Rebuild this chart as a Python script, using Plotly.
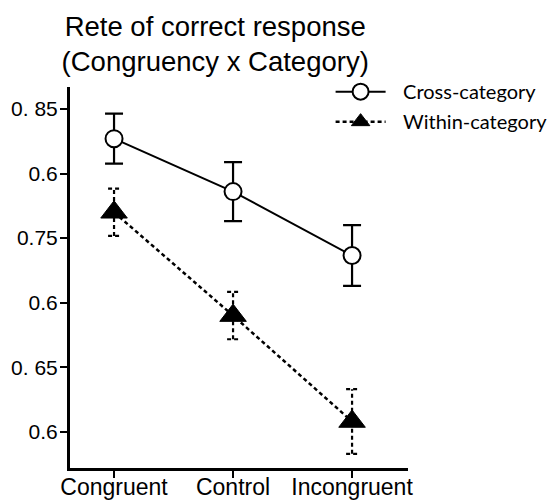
import plotly.graph_objects as go

categories = ["Congruent", "Control", "Incongruent"]
x_pos = [0, 1, 2]

cross_vals = [0.827, 0.786, 0.7365]
cross_err = [0.0194, 0.0228, 0.0235]

within_vals = [0.770, 0.690, 0.608]
within_err = [0.0183, 0.0183, 0.025]

y_tickvals = [0.85, 0.80, 0.75, 0.70, 0.65, 0.60]
y_ticktext = ["0. 85", "0.6", "0.75", "0.6", "0. 65", "0.6"]

# dashed error bars for within-category, built from the arrays
cap = 0.05
ex, ey = [], []
for xi, v, e in zip(x_pos, within_vals, within_err):
    lo, hi = v - e, v + e
    ex += [xi, xi, None, xi - cap, xi + cap, None, xi - cap, xi + cap, None]
    ey += [lo, hi, None, hi, hi, None, lo, lo, None]

fig = go.Figure()

fig.add_trace(go.Scatter(
    x=ex, y=ey, mode="lines", showlegend=False, hoverinfo="skip",
    line=dict(color="black", width=2.2, dash="4px,3px"),
))

fig.add_trace(go.Scatter(
    x=x_pos, y=cross_vals, name="\u2002\u2009Cross-category", mode="lines+markers",
    legendgroup="a",
    line=dict(color="black", width=2),
    marker=dict(symbol="circle", size=17, color="white",
                line=dict(color="black", width=2)),
    error_y=dict(type="data", array=cross_err, visible=True,
                 color="black", thickness=2.2, width=9),
))

fig.add_trace(go.Scatter(
    x=x_pos, y=within_vals, name="\u2002\u2009Within-category", mode="lines+markers",
    legendgroup="b",
    line=dict(color="black", width=2.5, dash="4px,3px"),
    marker=dict(symbol="triangle-up", size=23, color="black",
                line=dict(color="black", width=1)),
))

fig.update_layout(
    width=557, height=500,
    margin=dict(l=62, r=157, t=79, b=40, autoexpand=False),
    plot_bgcolor="white", paper_bgcolor="white",
    title=dict(
        text="Rete of correct response<br>(Congruency x Category)",
        font=dict(family="Liberation Sans, Arial", size=27.5, color="black"),
        x=0.372, xanchor="center", xref="container",
        y=0.945, yanchor="top", yref="container",
    ),
    showlegend=True,
    legend=dict(
        x=0.771, y=1.039, xanchor="left", yanchor="top",
        font=dict(family="Lato, Open Sans", size=20, color="black"),
        bgcolor="rgba(0,0,0,0)", itemwidth=50,
        traceorder="grouped", tracegroupgap=1,
    ),
    font=dict(family="Liberation Sans, Arial", color="black"),
)

fig.update_xaxes(
    range=[-0.37, 2.47], tickvals=x_pos, ticktext=categories,
    showgrid=False, zeroline=False, showline=True, linecolor="black",
    linewidth=3, ticks="outside", ticklen=7, tickwidth=1.5, tickcolor="black",
    tickfont=dict(family="Liberation Sans, Arial", size=23, color="black"),
    ticklabelstandoff=-11,
    automargin=False,
)
fig.update_yaxes(
    range=[0.572, 0.867], tickvals=y_tickvals, ticktext=y_ticktext,
    showgrid=False, zeroline=False, showline=True, linecolor="black",
    linewidth=3, ticks="outside", ticklen=7, tickwidth=1.5, tickcolor="black",
    tickfont=dict(family="Liberation Sans, Arial", size=21, color="black"),
    ticklabelstandoff=-2,
    automargin=False,
)

fig.write_html("out.html")
